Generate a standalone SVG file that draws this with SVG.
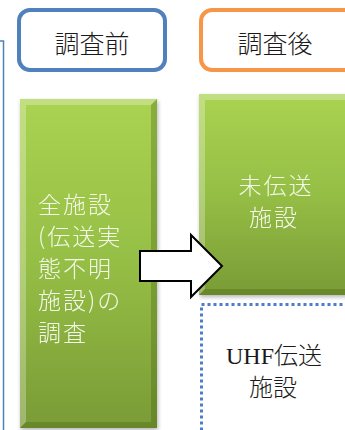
<svg xmlns="http://www.w3.org/2000/svg" width="345" height="430" viewBox="0 0 345 430">
<defs>
<linearGradient id="gr" x1="0" y1="0" x2="0" y2="1">
<stop offset="0" stop-color="#AAD352"/>
<stop offset="0.5" stop-color="#95BE45"/>
<stop offset="1" stop-color="#7A9B36"/>
</linearGradient>
<filter id="sh" x="-10%" y="-10%" width="130%" height="120%">
<feGaussianBlur in="SourceAlpha" stdDeviation="2"/>
<feOffset dx="1" dy="2"/>
<feComponentTransfer><feFuncA type="linear" slope="0.3"/></feComponentTransfer>
<feMerge><feMergeNode/><feMergeNode in="SourceGraphic"/></feMerge>
</filter>
</defs>
<style>
.hdr{fill:#fff;stroke-width:4}
.ht{font-family:"Noto Sans CJK JP",sans-serif;font-size:25px;fill:#1a1a1a;text-anchor:middle;font-weight:300}
.wt{font-family:"Noto Sans CJK JP",sans-serif;font-size:23px;letter-spacing:2px;fill:#F4F8EA;font-weight:300}
.bt{font-family:"Liberation Serif","Noto Sans CJK JP",serif;font-size:24px;fill:#1a1a1a;text-anchor:middle;font-weight:300}
.hl{fill:#fff;opacity:0.28}
.dk{fill:#3F5A10;opacity:0.3}
</style>
<rect x="-10" y="41" width="13.5" height="400" fill="none" stroke="#4F81BD" stroke-width="1.5"/>
<g id="before">
<rect class="hdr" x="19" y="10" width="146" height="60" rx="11" stroke="#4F81BD"/>
<text class="ht" x="92" y="53">調査前</text>
</g>
<g id="after">
<rect class="hdr" x="201" y="10" width="160" height="60" rx="11" stroke="#F79646"/>
<text class="ht" x="275" y="53">調査後</text>
</g>
<g id="all" filter="url(#sh)">
<rect x="20" y="99" width="137" height="329" fill="url(#gr)"/>
<polygon class="hl" points="20,99 157,99 151,105 26,105"/>
<polygon class="hl" points="20,99 26,105 26,422 20,428"/>
<polygon class="dk" points="157,99 157,428 151,422 151,105"/>
<polygon class="dk" points="20,428 157,428 151,422 26,422"/>
<text class="wt" x="38" y="213">全施設</text>
<text class="wt" x="38" y="245">(伝送実</text>
<text class="wt" x="38" y="277">態不明</text>
<text class="wt" x="38" y="309">施設)の</text>
<text class="wt" x="38" y="341">調査</text>
</g>
<g id="untransmitted" filter="url(#sh)">
<rect x="199" y="94" width="160" height="201" fill="url(#gr)"/>
<polygon class="hl" points="199,94 359,94 353,100 205,100"/>
<polygon class="hl" points="199,94 205,100 205,289 199,295"/>
<polygon class="dk" points="199,295 359,295 353,289 205,289"/>
<text class="wt" x="276" y="194" text-anchor="middle">未伝送</text>
<text class="wt" x="274" y="226" text-anchor="middle">施設</text>
</g>
<g id="uhf">
<rect x="201.5" y="304.5" width="160" height="140" fill="none" stroke="#4A7FC8" stroke-width="3" stroke-dasharray="3,3"/>
<text class="bt" x="274" y="364">UHF伝送</text>
<text class="bt" x="273" y="396">施設</text>
</g>
<g id="connectors">
<polygon points="140,251 191,251 191,235 222,266 191,297 191,281 140,281" fill="#fff" stroke="#000" stroke-width="2" stroke-linejoin="miter"/>
</g>
</svg>
